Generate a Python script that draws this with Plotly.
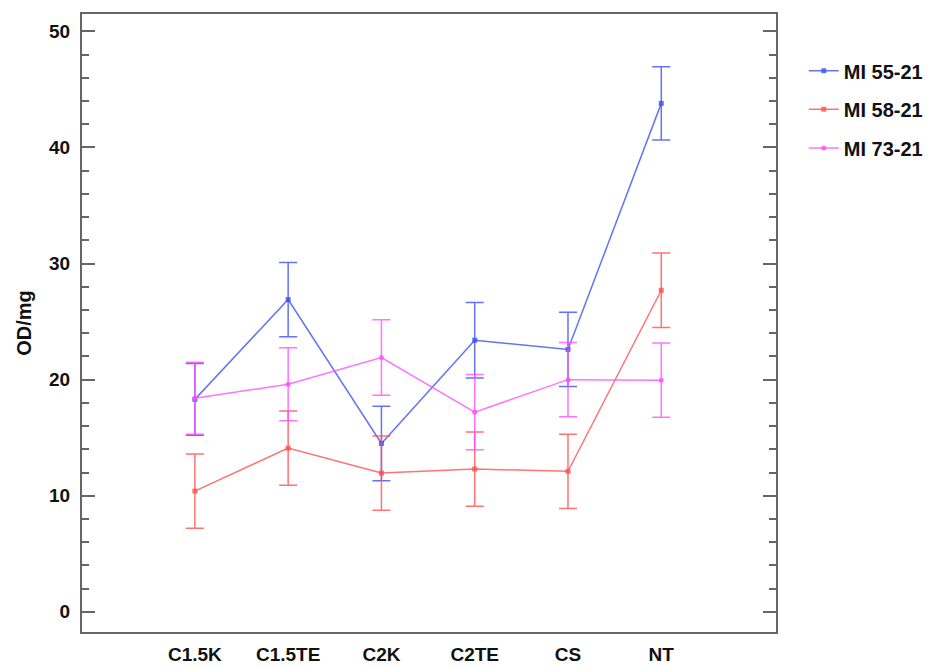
import plotly.graph_objects as go

categories = ["C1.5K", "C1.5TE", "C2K", "C2TE", "CS", "NT"]
series_names = ["MI 55-21", "MI 58-21", "MI 73-21"]
mi55_values = [18.3, 26.9, 14.5, 23.4, 22.6, 43.8]
mi55_err = [3.1, 3.2, 3.2, 3.25, 3.2, 3.15]
mi58_values = [10.4, 14.1, 11.95, 12.3, 12.1, 27.7]
mi58_err = [3.2, 3.2, 3.2, 3.2, 3.2, 3.2]
mi73_values = [18.4, 19.6, 21.9, 17.2, 20.0, 19.95]
mi73_err = [3.1, 3.15, 3.25, 3.25, 3.2, 3.2]

colors = ["rgba(60,80,240,0.8)", "rgba(255,80,80,0.8)", "rgba(255,80,255,0.8)"]
symbols = ["square", "square", "circle"]
values = [mi55_values, mi58_values, mi73_values]
errs = [mi55_err, mi58_err, mi73_err]
legend_ids = ["legend", "legend2", "legend3"]
legend_y = [0.908, 0.846, 0.783]

FONT = "Liberation Sans, Arial"

fig = go.Figure()
for name, v, e, c, s, lg in zip(series_names, values, errs, colors, symbols, legend_ids):
    fig.add_trace(go.Scatter(
        x=list(range(len(categories))), y=v, name=name, mode="lines+markers",
        line=dict(color=c, width=1.5),
        marker=dict(color=c, size=5, symbol=s),
        error_y=dict(type="data", array=e, visible=True, color=c, thickness=1.5, width=9),
        legend=lg,
    ))

legend_common = dict(font=dict(family=FONT, size=20, color="#111", weight="bold"),
                     bgcolor="rgba(0,0,0,0)", xanchor="left", yanchor="middle", x=1.040)
layout_legends = {}
for lg, ly in zip(legend_ids, legend_y):
    layout_legends[lg] = dict(legend_common, y=ly)

fig.update_layout(
    width=929, height=659,
    margin=dict(l=74, r=161, t=6, b=35, autoexpand=False),
    plot_bgcolor="white", paper_bgcolor="white",
    font=dict(family=FONT, size=18, color="#111"),
    showlegend=True,
    **layout_legends,
    xaxis=dict(
        range=[-1.21, 6.23], tickmode="array", tickvals=list(range(len(categories))),
        ticktext=categories, showgrid=False, zeroline=False, automargin=False,
        showline=True, linecolor="#666", linewidth=2, mirror=True,
        ticks="outside", ticklen=4, tickcolor="rgba(0,0,0,0)",
        tickfont=dict(family=FONT, size=19, color="#111", weight="bold"),
    ),
    yaxis=dict(
        range=[-1.74, 51.5], tickvals=[0, 10, 20, 30, 40, 50], showgrid=False, zeroline=False,
        automargin=False,
        showline=True, linecolor="#666", linewidth=2, mirror="allticks",
        ticks="inside", ticklen=13, tickcolor="#666", tickwidth=2,
        ticklabelstandoff=6,
        minor=dict(dtick=2, ticks="inside", ticklen=7, tickcolor="#666", tickwidth=2, showgrid=False),
        tickfont=dict(family=FONT, size=19, color="#111", weight="bold"),
        title=dict(text="OD/mg", font=dict(family=FONT, size=20, color="#111", weight="bold"), standoff=12),
    ),
)

fig.write_html("out.html")
